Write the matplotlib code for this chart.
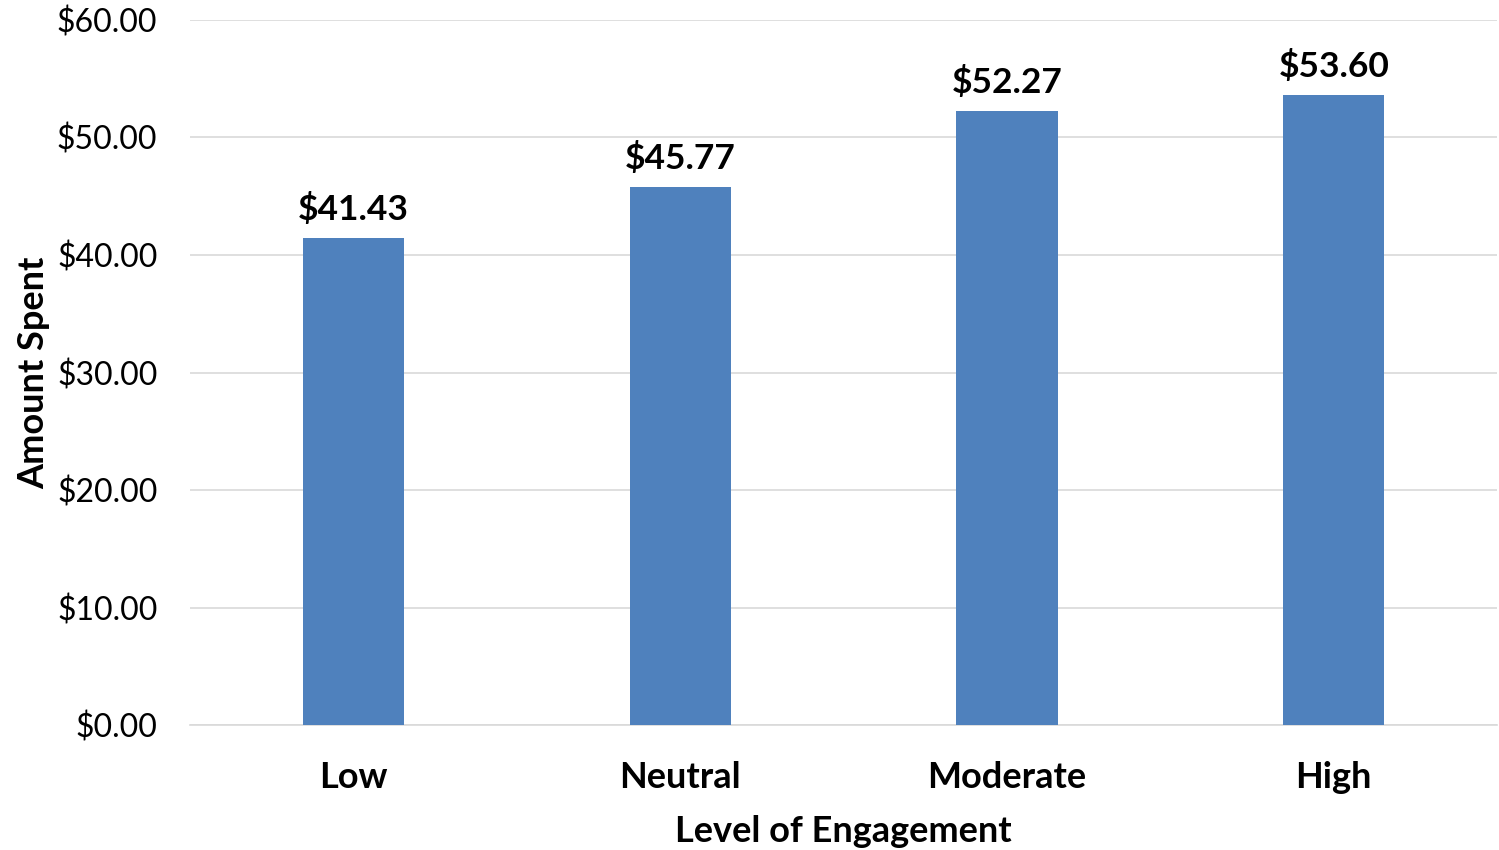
# Bar chart: amount spent by level of engagement
import matplotlib.pyplot as plt
from matplotlib.ticker import FuncFormatter

# data
levels = ['Low', 'Neutral', 'Moderate', 'High']
spent = [41.43, 45.77, 52.27, 53.60]
y_ticks = [0, 10, 20, 30, 40, 50, 60]

plt.rcParams['font.family'] = ['Lato', 'DejaVu Sans']

fig = plt.figure(figsize=(14.99, 8.5), dpi=100)
ax = fig.add_axes([0.1268, 0.147, 0.872, 0.8295])

x = range(len(levels))
bars = ax.bar(x, spent, width=0.31, color='#4F81BD', zorder=3)

# value labels on top of the bars
for b, v in zip(bars, spent):
    ax.text(b.get_x() + b.get_width() / 2, v + 1.0, '${:.2f}'.format(v),
            ha='center', va='bottom', fontsize=25.5, fontweight='bold')

ax.set_xlim(-0.5, len(levels) - 0.5)
ax.set_ylim(0, 60)
ax.set_yticks(y_ticks)
ax.yaxis.set_major_formatter(FuncFormatter(lambda v, p: '${:.2f}'.format(v)))
ax.set_xticks(list(x))
ax.set_xticklabels(levels, fontsize=26, fontweight='bold')
ax.tick_params(axis='y', labelsize=23, length=0, pad=23.5)
ax.tick_params(axis='x', length=0, pad=26)

ax.grid(axis='y', color='#D9D9D9', linewidth=1.2, zorder=0)
for s in ['top', 'right', 'left']:
    ax.spines[s].set_visible(False)
ax.spines['bottom'].set_color('#D9D9D9')
ax.spines['bottom'].set_linewidth(1.2)

ax.set_xlabel('Level of Engagement', fontsize=26, fontweight='bold', labelpad=15)
ax.set_ylabel('Amount Spent', fontsize=26, fontweight='bold', labelpad=4.5)

fig.savefig('out.png', dpi=100)
